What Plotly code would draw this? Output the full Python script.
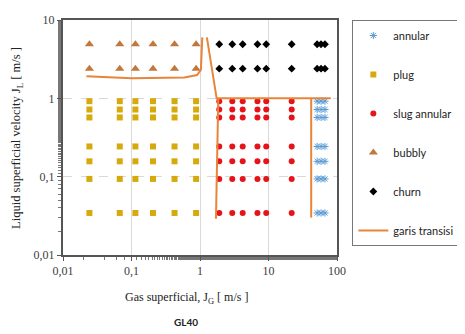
import plotly.graph_objects as go

# flow-regime observations (J_G, J_L in m/s)
jg_low = [0.0243, 0.0674, 0.114, 0.206, 0.425, 0.877]
jg_mid = [1.91, 2.96, 4.2, 6.9, 9.27, 21.8]
jg_high = [51.3, 58.5, 66.7]
jl_high = [4.9, 2.39]
jl_rows = [0.92, 0.72, 0.57, 0.243, 0.157, 0.0936, 0.0344]

# transition line segments (None = break)
trans_x = [0.022, 0.1, 0.59, 0.905, 1.03, 1.08, None, 1.26, 1.75, 81, None, 1.85, 1.71, None, 42, 42]
trans_y = [1.92, 1.80, 1.84, 1.98, 2.31, 6.0, None, 6.0, 1.0, 1.0, None, 1.0, 0.029, None, 1.0, 0.030]

tick_vals = [0.01, 0.1, 1, 10, 100]
tick_text = ["0,01", "0,1", "1", "10", "100"]


def grid(xs, ys):
    return [x for y in ys for x in xs], [y for y in ys for x in xs]


serif = "Liberation Serif"
sans = "Lato"

fig = go.Figure()

ax, ay = grid(jg_high, jl_rows)
fig.add_trace(go.Scatter(x=ax, y=ay, mode="markers", name="annular", legendgroup="a",
                         marker=dict(symbol="asterisk-open", size=6, color="#5B9BD5", line=dict(width=1, color="#5B9BD5"))))
px_, py_ = grid(jg_low, jl_rows)
fig.add_trace(go.Scatter(x=px_, y=py_, mode="markers", name="plug", legendgroup="b",
                         marker=dict(symbol="square", size=6, color="#D6AA0C")))
sx, sy = grid(jg_mid, jl_rows)
fig.add_trace(go.Scatter(x=sx, y=sy, mode="markers", name="slug annular", legendgroup="c",
                         marker=dict(symbol="circle", size=6, color="#E5141B")))
bx, by = grid(jg_low, jl_high)
fig.add_trace(go.Scatter(x=bx, y=by, mode="markers", name="bubbly", legendgroup="d",
                         marker=dict(symbol="triangle-up", size=8, color="#C0783C")))
cx, cy = grid(jg_mid + jg_high, jl_high)
fig.add_trace(go.Scatter(x=cx, y=cy, mode="markers", name="churn", legendgroup="e",
                         marker=dict(symbol="diamond", size=6, color="black")))
fig.add_trace(go.Scatter(x=trans_x, y=trans_y, mode="lines", name="garis transisi", legendgroup="f",
                         line=dict(color="#E8853A", width=2)))

axis_common = dict(
    type="log", showline=True, linecolor="#555555", linewidth=2, mirror=True,
    ticks="outside", ticklen=4, tickcolor="#555555",
    tickvals=tick_vals, ticktext=tick_text,
    tickfont=dict(family=serif, size=12, color="#404040"),
    minor=dict(ticks="outside", ticklen=3, tickcolor="#777777", showgrid=False),
    zeroline=False,
)

fig.update_xaxes(axis_common, range=[-2, 2], showgrid=True, gridcolor="#D9D9D9", gridwidth=1)
fig.update_yaxes(axis_common, range=[-2, 1], showgrid=True, gridcolor="#D9D9D9", gridwidth=1, griddash="dash")

# page body adds an 8px margin, so the figure is drawn 8px smaller and offset
fig.update_layout(
    width=457, height=326,
    margin=dict(l=55, r=117, t=5, b=79),
    plot_bgcolor="white", paper_bgcolor="white",
    font=dict(family=sans, size=11, color="#222222"),
    legend=dict(x=1.056, y=1.0, xanchor="left", yanchor="top", xref="paper", yref="paper",
                bordercolor="#777777", borderwidth=1, bgcolor="white",
                font=dict(family=sans, size=11, color="#222222"),
                tracegroupgap=20, itemwidth=30),
    annotations=[
        dict(text="Gas superficial, J<sub>G</sub> [ m/s ]", x=0.45, y=-0.14, xref="paper", yref="paper",
             xanchor="center", yanchor="top", showarrow=False, font=dict(family=serif, size=12, color="#222222")),
        dict(text="Liquid superficial velocity J<sub>L</sub> [ m/s ]", x=-0.17, y=0.5, xref="paper", yref="paper",
             xanchor="center", yanchor="middle", textangle=-90, showarrow=False,
             font=dict(family=serif, size=12.5, color="#222222")),
        dict(text="<b>GL40</b>", x=0.45, y=-0.25, xref="paper", yref="paper", xanchor="center", yanchor="top",
             showarrow=False, font=dict(family=sans, size=10, color="#222222")),
    ],
)

fig.write_html("out.html")
